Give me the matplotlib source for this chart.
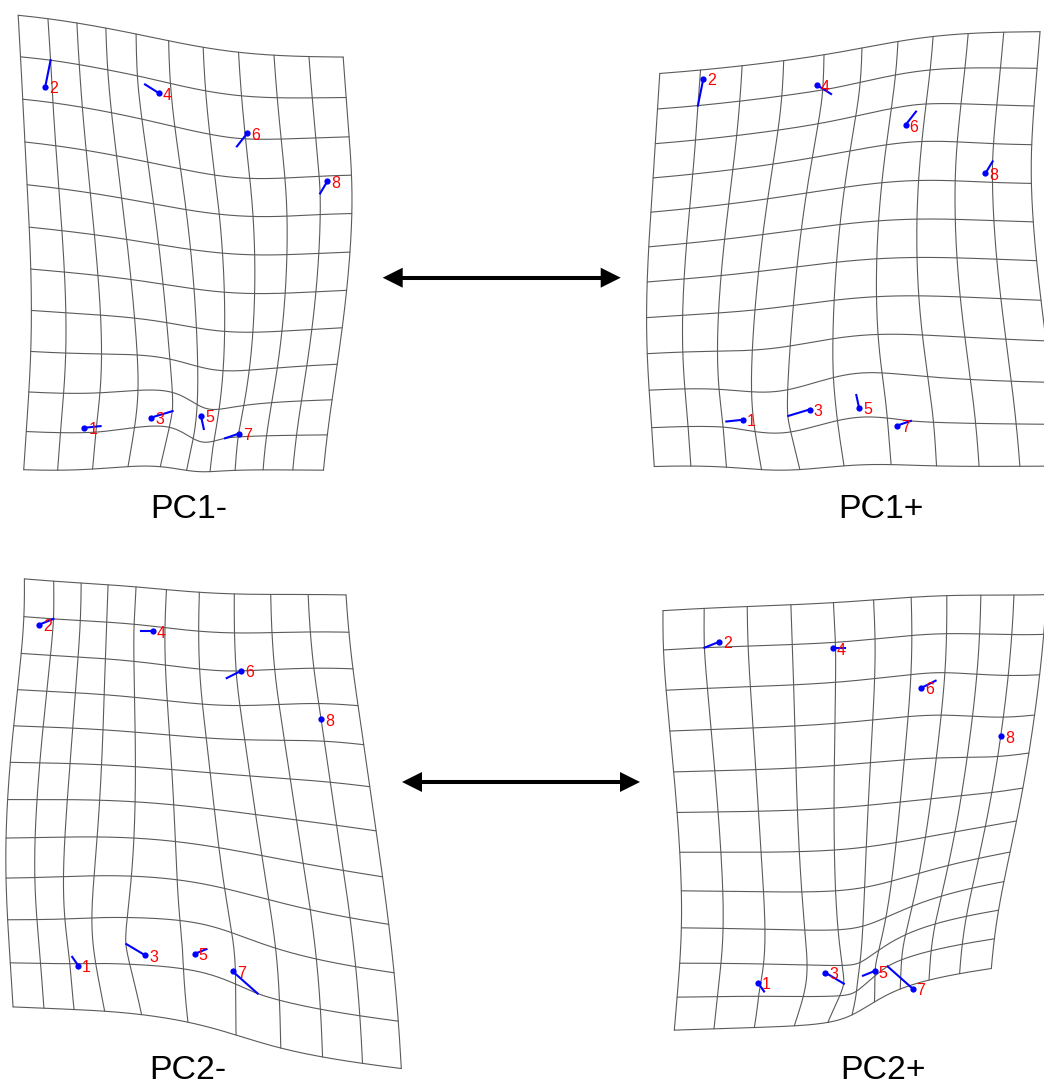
import numpy as np
import matplotlib
matplotlib.use("Agg")
import matplotlib.pyplot as plt

# ---------------- data ----------------
landmark_ids = [1, 2, 3, 4, 5, 6, 7, 8]
# consensus (mean) landmark configuration (image units, y downwards)
mean_x = [84.4, 45.2, 151.4, 159.0, 201.0, 247.4, 238.9, 327.3]
mean_y = [427.8, 86.9, 417.5, 93.2, 416.0, 133.0, 433.6, 181.4]
# shape change towards the positive end of each principal component
pc1_dx = [-16.2, -5.4, -21.2, 14.0, -2.8, 10.5, 13.9, 7.2]
pc1_dy = [1.7, 26.7, 6.4, 8.8, -13.0, -13.4, -4.7, -12.0]
pc2_dx = [6.0, -14.5, 18.8, 12.2, -11.7, 14.5, -25.0, -0.2]
pc2_dy = [8.7, 5.8, 11.2, 0.0, 4.7, -7.3, -22.2, -0.8]
panel_titles = ["PC1-", "PC1+", "PC2-", "PC2+"]

# ---------------- thin-plate spline ----------------
def _u(r):
    with np.errstate(divide="ignore", invalid="ignore"):
        v = r ** 2 * np.log(r ** 2)
    return np.nan_to_num(v)


def tps_fit(src, dst):
    n = len(src)
    d = np.linalg.norm(src[:, None, :] - src[None, :, :], axis=2)
    L = np.zeros((n + 3, n + 3))
    L[:n, :n] = _u(d)
    P = np.hstack([np.ones((n, 1)), src])
    L[:n, n:] = P
    L[n:, :n] = P.T
    Y = np.vstack([dst, np.zeros((3, 2))])
    return np.linalg.solve(L, Y)


def tps_apply(params, src, pts):
    n = len(src)
    d = np.linalg.norm(pts[:, None, :] - src[None, :, :], axis=2)
    return _u(d) @ params[:n] + params[n] + pts @ params[n + 1:]


# ---------------- figure ----------------
W, H = 1044, 1087
fig = plt.figure(figsize=(W / 100, H / 100), dpi=100)
fig.patch.set_facecolor("white")

mean = np.column_stack([mean_x, mean_y])
pcs = {"PC1": np.column_stack([pc1_dx, pc1_dy]),
       "PC2": np.column_stack([pc2_dx, pc2_dy])}

# reference lattice: bounding box of consensus split into 8 x 9 cells, plus one cell margin
rx = mean[:, 0].max() - mean[:, 0].min()
ry = mean[:, 1].max() - mean[:, 1].min()
cdx, cdy = rx / 8.0, ry / 9.0
gx = mean[:, 0].min() - cdx + cdx * np.arange(11)
gy = mean[:, 1].min() - cdy + cdy * np.arange(12)

# panel placement (pixel offset of each panel) and title placement
panels = [
    (panel_titles[0], "PC1", -1, (0.0, 0.0), (188.5, 518)),
    (panel_titles[1], "PC1", 1, (658.1, -8.0), (881.0, 518)),
    (panel_titles[2], "PC2", -1, (-6.2, 537.8), (187.5, 1079)),
    (panel_titles[3], "PC2", 1, (673.7, 555.0), (883.0, 1079)),
]

X0, X1, Y0, Y1 = -60, 440, -60, 580
for title, pc, sign, (ox, oy), (tx, ty) in panels:
    ax = fig.add_axes([(ox + X0) / W, 1 - (oy + Y1) / H, (X1 - X0) / W, (Y1 - Y0) / H])
    ax.set_xlim(X0, X1)
    ax.set_ylim(Y1, Y0)
    ax.axis("off")
    target = mean + sign * pcs[pc]
    prm = tps_fit(mean, target)
    ys = np.linspace(gy[0], gy[-1], 400)
    xs = np.linspace(gx[0], gx[-1], 400)
    for x in gx:
        w = tps_apply(prm, mean, np.column_stack([np.full_like(ys, x), ys]))
        ax.plot(w[:, 0], w[:, 1], color="#5a5a5a", lw=0.8, solid_capstyle="round", zorder=1)
    for y in gy:
        w = tps_apply(prm, mean, np.column_stack([xs, np.full_like(xs, y)]))
        ax.plot(w[:, 0], w[:, 1], color="#5a5a5a", lw=0.8, solid_capstyle="round", zorder=1)
    for k, lid in enumerate(landmark_ids):
        ax.plot([mean[k, 0], target[k, 0]], [mean[k, 1], target[k, 1]],
                color="#0000ff", lw=1.5, zorder=2)
        ax.plot(mean[k, 0], mean[k, 1], "o", color="#0000ff", ms=4.5, mew=0, zorder=3)
        ax.annotate(str(lid), (mean[k, 0], mean[k, 1]), xytext=(4, -2),
                    textcoords="offset pixels", ha="left", va="center",
                    color="#ff0000", fontsize=11.5, family="Liberation Sans", zorder=4)
    fig.text(tx / W, 1 - ty / H, title, ha="center", va="baseline",
             fontsize=24.3, family="Liberation Sans", color="black")

# double-headed arrows between the paired panels
ov = fig.add_axes([0, 0, 1, 1], facecolor="none")
ov.set_xlim(0, W)
ov.set_ylim(H, 0)
ov.axis("off")
for (xa, xb, yy) in [(382.7, 620.7, 277.7), (402.0, 640.0, 782.0)]:
    hl, hw = 20.0, 10.0
    ov.plot([xa + hl - 2, xb - hl + 2], [yy, yy], color="black", lw=2.9, solid_capstyle="butt")
    ov.fill([xa, xa + hl, xa + hl], [yy, yy - hw, yy + hw], color="black", lw=0)
    ov.fill([xb, xb - hl, xb - hl], [yy, yy - hw, yy + hw], color="black", lw=0)

fig.savefig("out.png", dpi=100, facecolor="white")
